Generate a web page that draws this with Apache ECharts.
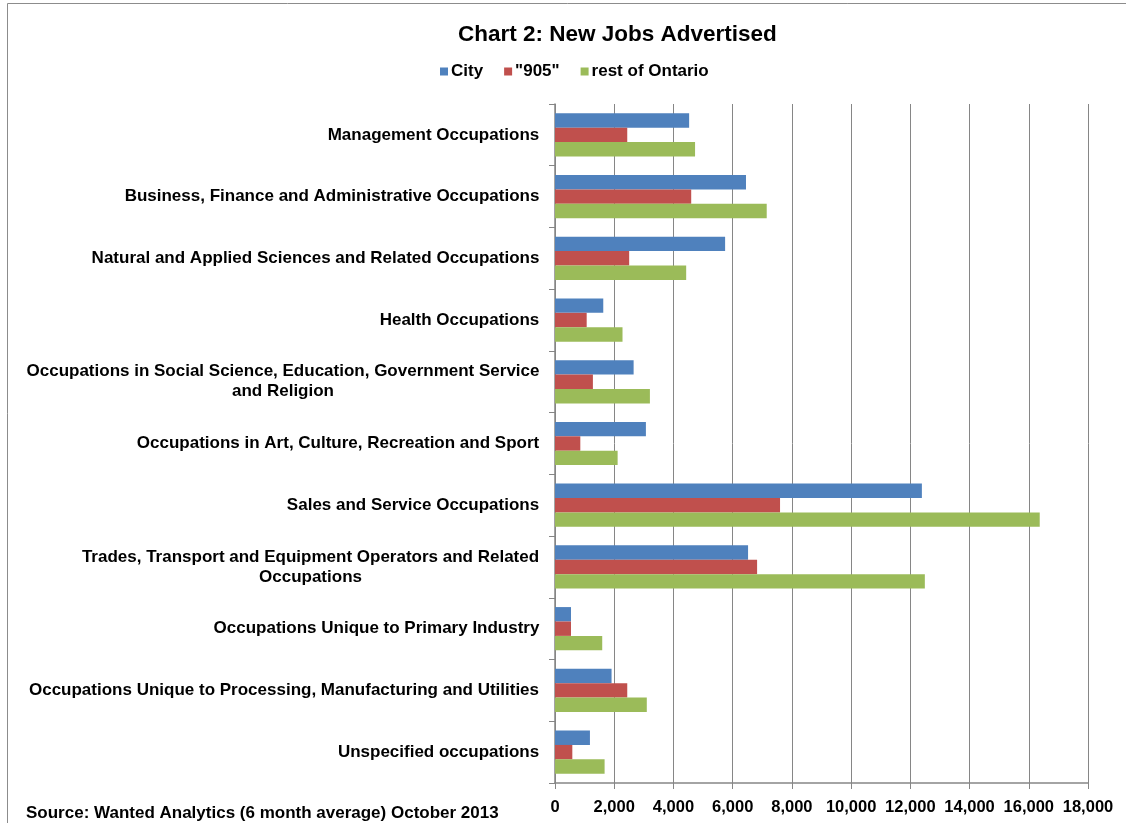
<!DOCTYPE html>
<html>
<head>
<meta charset="utf-8">
<script src="https://cdn.jsdelivr.net/npm/echarts@6/dist/echarts.min.js"></script>
<style>
html,body{margin:0;padding:0;background:#fff;}
#chart{width:1126px;height:823px;}
</style>
</head>
<body>
<div id="chart"></div>
<script>
const categories = [
  "Management Occupations",
  "Business, Finance and Administrative Occupations",
  "Natural and Applied Sciences and Related Occupations",
  "Health Occupations",
  "Occupations in Social Science, Education, Government Service\nand Religion",
  "Occupations in Art, Culture, Recreation and Sport",
  "Sales and Service Occupations",
  "Trades, Transport and Equipment Operators and Related\nOccupations",
  "Occupations Unique to Primary Industry",
  "Occupations Unique to Processing, Manufacturing and Utilities",
  "Unspecified occupations"
];
const seriesNames = ["City", "\"905\"", "rest of Ontario"];
const cityValues = [4530, 6450, 5745, 1630, 2655, 3070, 12390, 6520, 540, 1910, 1180];
const gta905Values = [2440, 4600, 2505, 1070, 1280, 855, 7600, 6825, 540, 2440, 585];
const restValues = [4730, 7150, 4430, 2280, 3205, 2115, 16370, 12490, 1595, 3100, 1675];
const xTicks = { min: 0, max: 18000, interval: 2000 };
const titleText = "Chart 2: New Jobs Advertised";
const sourceText = "Source: Wanted Analytics (6 month average) October 2013";

const FONT = '"Liberation Sans", Arial, sans-serif';
const catFontSize = 17;

// measure text to center wrapped lines inside a right-aligned block
const cv = document.createElement('canvas').getContext('2d');
cv.font = 'bold ' + catFontSize + 'px ' + FONT;
const rich = {};
categories.forEach((c, i) => {
  const lines = c.split('\n');
  const w = Math.max(...lines.map(l => cv.measureText(l).width));
  rich['c' + i] = {
    width: Math.ceil(w) + 1,
    align: 'center',
    fontSize: catFontSize,
    fontWeight: 'bold',
    fontFamily: FONT,
    color: '#000',
    lineHeight: 20
  };
});

const chart = echarts.init(document.getElementById('chart'), null, { renderer: 'canvas' });
const colors = ['#4F81BD', '#C0504D', '#9BBB59'];
const vals = [cityValues, gta905Values, restValues];

chart.setOption({
  animation: false,
  backgroundColor: '#fff',
  color: colors,
  title: [
    {
      text: titleText,
      left: 453, top: 18,
      textStyle: { fontFamily: FONT, fontWeight: 'bold', fontSize: 22.5, color: '#000' }
    },
    {
      text: sourceText,
      left: 21, top: 800,
      textStyle: { fontFamily: FONT, fontWeight: 'bold', fontSize: 17, color: '#000' }
    }
  ],
  legend: {
    left: 435, top: 58,
    itemWidth: 8, itemHeight: 8, itemGap: 21,
    icon: 'rect',
    textStyle: { fontFamily: FONT, fontWeight: 'bold', fontSize: 17, color: '#000', padding: [0, 0, 0, -2] },
    data: seriesNames
  },
  graphic: [{
    type: 'rect', silent: true,
    shape: { x: 7.5, y: 3.5, width: 1300, height: 1000 },
    style: { fill: 'none', stroke: '#8c8c8c', lineWidth: 1 }
  }],
  grid: { left: 555, right: 38, top: 104, bottom: 40, containLabel: false },
  xAxis: {
    type: 'value',
    min: xTicks.min, max: xTicks.max, interval: xTicks.interval,
    axisLine: { show: true, lineStyle: { color: '#868686', width: 1.5 } },
    axisTick: { show: true, length: 6, lineStyle: { color: '#868686' } },
    splitLine: { show: true, lineStyle: { color: '#868686', width: 1 } },
    axisLabel: {
      margin: 16,
      fontFamily: FONT, fontWeight: 'bold', fontSize: 16.5, color: '#000',
      formatter: v => v.toLocaleString('en-US')
    }
  },
  yAxis: {
    type: 'category',
    inverse: true,
    data: categories,
    axisLine: { show: true, lineStyle: { color: '#868686', width: 1.5 } },
    axisTick: { show: true, length: 6, alignWithLabel: false, lineStyle: { color: '#868686' } },
    splitLine: { show: false },
    axisLabel: {
      margin: 15,
      interval: 0,
      align: 'right',
      formatter: (v, i) => v.split('\n').map(l => '{c' + i + '|' + l + '}').join('\n'),
      rich: rich
    }
  },
  series: seriesNames.map((n, k) => ({
    name: n,
    type: 'bar',
    data: vals[k],
    barGap: '0%',
    barCategoryGap: '30%',
    itemStyle: { color: colors[k] }
  }))
});
</script>
</body>
</html>
